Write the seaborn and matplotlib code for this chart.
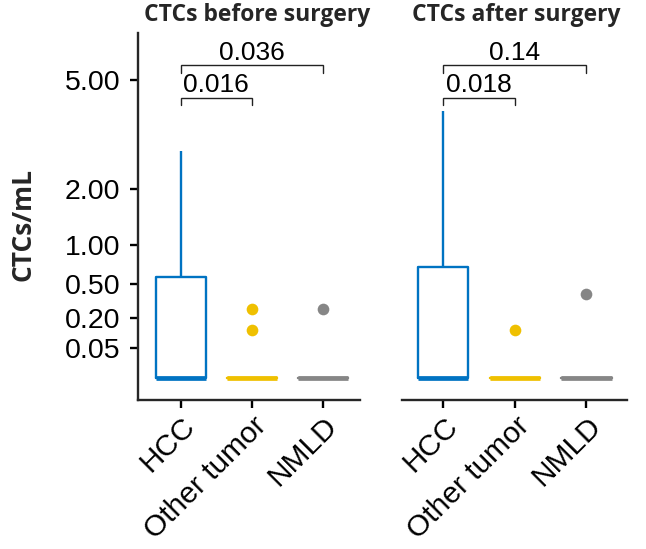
import numpy as np
import pandas as pd
import seaborn as sns
import matplotlib.pyplot as plt

# groups and colours (JCO palette)
groups = ["HCC", "Other tumor", "NMLD"]
colors = ["#0073C2", "#EFC000", "#868686"]

# CTCs/mL per patient, before surgery
before_hcc = [0]*11 + [0.05, 0.15, 0.3, 0.55, 0.63, 0.9, 1.2, 1.8, 2.9]
before_other = [0]*12 + [0.13, 0.27]
before_nmld = [0]*10 + [0.27]

# CTCs/mL per patient, after surgery
after_hcc = [0]*11 + [0.1, 0.2, 0.4, 0.65, 0.85, 1.0, 1.5, 2.2, 4.0]
after_other = [0]*12 + [0.13]
after_nmld = [0]*10 + [0.4]

# p values of the pairwise comparisons (HCC vs Other tumor, HCC vs NMLD)
p_before = ["0.016", "0.036"]
p_after = ["0.018", "0.14"]

yticks = [0.05, 0.2, 0.5, 1, 2, 5]
ytick_labels = ["0.05", "0.20", "0.50", "1.00", "2.00", "5.00"]


def long_df(hcc, other, nmld):
    return pd.DataFrame({
        "group": ["HCC"]*len(hcc) + ["Other tumor"]*len(other) + ["NMLD"]*len(nmld),
        "value": hcc + other + nmld,
    })


df_before = long_df(before_hcc, before_other, before_nmld)
df_after = long_df(after_hcc, after_other, after_nmld)


# sqrt axis like scale_y_sqrt
def fwd(v):
    return np.sign(v) * np.sqrt(np.abs(v))


def inv(v):
    return np.sign(v) * v**2


sns.set_style("ticks")
plt.rcParams["font.family"] = ["Liberation Sans", "DejaVu Sans"]

fig = plt.figure(figsize=(6.46, 5.49), dpi=100)
ax1 = fig.add_axes([0.2132, 0.2714, 0.3441, 0.6685])
ax2 = fig.add_axes([0.6218, 0.2714, 0.3492, 0.6685])

lw = 1.7
for ax, df, pv, xl in [(ax1, df_before, p_before, (-0.6, 2.515)),
                       (ax2, df_after, p_after, (-0.58, 2.57))]:
    ax.set_yscale("function", functions=(fwd, inv))
    sns.boxplot(data=df, x="group", y="value", hue="group", order=groups,
                hue_order=groups, palette=colors, fill=False, width=0.7,
                whis=5, showcaps=False, fliersize=8.4, linewidth=lw,
                medianprops={"linewidth": 3.4}, legend=False, ax=ax)
    for ln in ax.lines:
        if ln.get_marker() not in (None, "None", ""):
            ln.set_marker("o")
            ln.set_markerfacecolor(ln.get_markeredgecolor())
            ln.set_markeredgewidth(0)
    ax.set_ylim(-0.0271, 6.68)
    ax.set_xlim(*xl)
    ax.set_xlabel("")
    ax.set_ylabel("")
    ax.set_xticks(range(3))
    ax.set_xticklabels(groups, rotation=45, ha="right", va="top",
                       rotation_mode="anchor", fontsize=21.5)
    ax.tick_params(axis="x", length=5.5, width=lw, pad=3, colors="black")
    for s in ["top", "right"]:
        ax.spines[s].set_visible(False)
    ax.spines["bottom"].set_linewidth(lw)
    ax.spines["left"].set_linewidth(lw)

    # comparison brackets
    for (x1, x2), y, leg, lab in [((0, 1), 4.41, 4.18, pv[0]),
                                  ((0, 2), 5.50, 5.23, pv[1])]:
        ax.plot([x1, x1, x2, x2], [leg, y, y, leg], color="#222222",
                lw=1.0, solid_joinstyle="miter")
        ax.text((x1 + x2) / 2, inv(fwd(y) + 0.04), lab, ha="center",
                va="baseline", fontsize=19, color="black")

ax1.set_yticks(yticks)
ax1.set_yticklabels(ytick_labels, fontsize=20.5)
ax1.yaxis.set_minor_locator(plt.NullLocator())
ax1.tick_params(axis="y", length=5.5, width=lw, pad=7, colors="black")

ax2.set_yticks([])
ax2.yaxis.set_minor_locator(plt.NullLocator())
ax2.spines["left"].set_visible(False)

fig.text(257.5/646, 1 - 15/549, "CTCs before surgery", ha="center",
         va="center", fontsize=16.5, fontweight="bold", family="Open Sans")
fig.text(516.5/646, 1 - 15/549, "CTCs after surgery", ha="center",
         va="center", fontsize=16.5, fontweight="bold", family="Open Sans")
fig.text(23/646, 1 - 224/549, "CTCs/mL", ha="center", va="center",
         rotation=90, fontsize=19, fontweight="bold", family="Open Sans")

fig.savefig("out.png", dpi=100)
